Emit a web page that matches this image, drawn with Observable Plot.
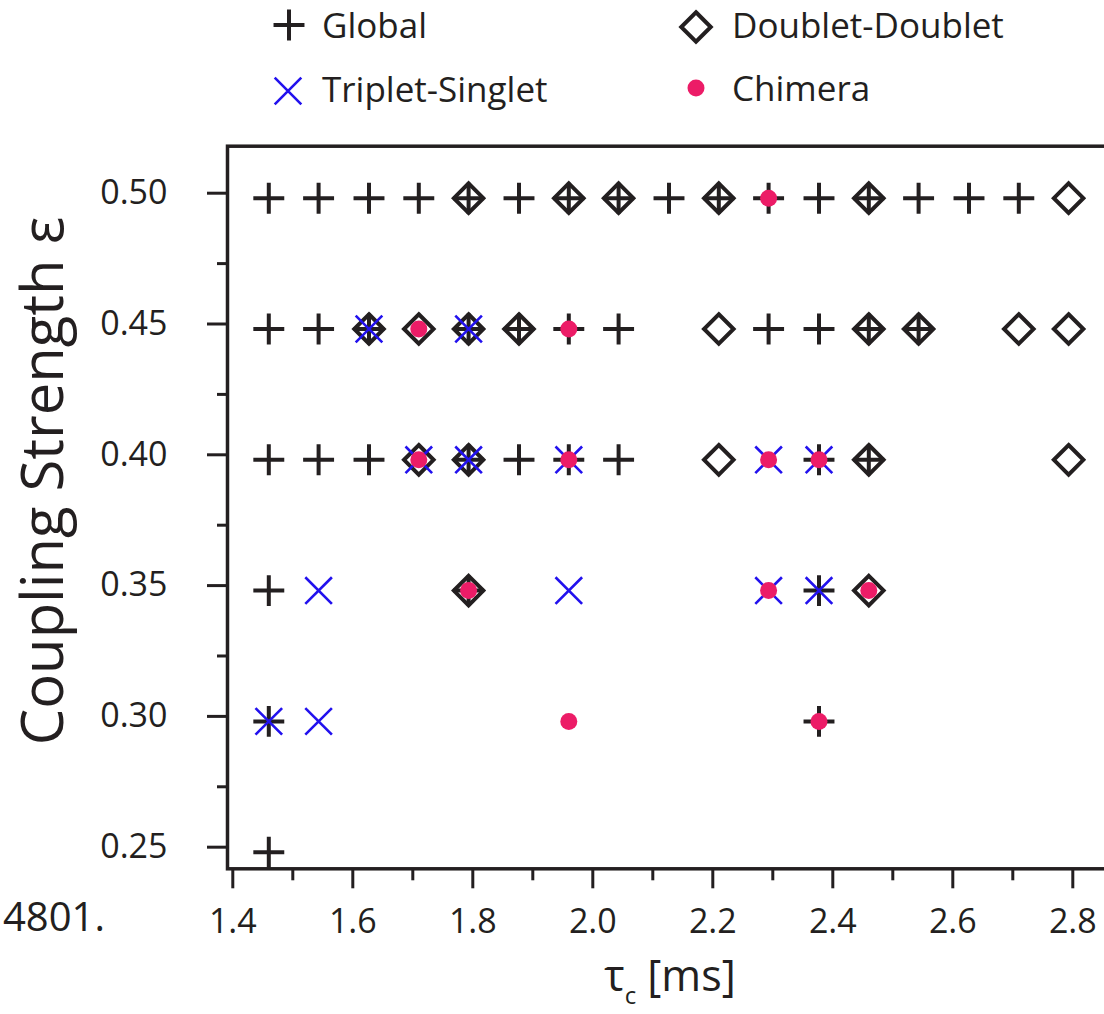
<!DOCTYPE html>
<html>
<head>
<meta charset="utf-8">
<script src="https://cdn.jsdelivr.net/npm/d3@7"></script>
<script src="https://cdn.jsdelivr.net/npm/@observablehq/plot@0.6"></script>
<style>
  html, body { margin: 0; padding: 0; background: #fff; overflow: hidden; width: 1104px; height: 1014px; }
  #legend, #chart { display: block; width: 1104px; overflow: hidden; }
  svg { display: block; }
  #chart svg { max-width: none !important; width: 1120px !important; height: 889px !important; }
</style>
</head>
<body>
<div id="legend"></div>
<div id="chart"></div>
<script>
// ---- data ----
const categories = ["Global", "Doublet-Doublet", "Triplet-Singlet", "Chimera"];
const xTicks = [1.4, 1.6, 1.8, 2.0, 2.2, 2.4, 2.6, 2.8];
const xMinorTicks = [1.5, 1.7, 1.9, 2.1, 2.3, 2.5, 2.7];
const yTicks = [0.25, 0.30, 0.35, 0.40, 0.45, 0.50];
const yMinorTicks = [0.275, 0.325, 0.375, 0.425, 0.475];

const globalPts = [
  [1.46,0.50],[1.543,0.50],[1.627,0.50],[1.71,0.50],[1.793,0.50],[1.877,0.50],[1.96,0.50],[2.043,0.50],
  [2.127,0.50],[2.21,0.50],[2.293,0.50],[2.377,0.50],[2.46,0.50],[2.543,0.50],[2.627,0.50],[2.71,0.50],
  [1.46,0.45],[1.543,0.45],[1.627,0.45],[1.793,0.45],[1.877,0.45],[1.96,0.45],[2.043,0.45],
  [2.293,0.45],[2.377,0.45],[2.46,0.45],[2.543,0.45],
  [1.46,0.40],[1.543,0.40],[1.627,0.40],[1.793,0.40],[1.877,0.40],[1.96,0.40],[2.043,0.40],
  [2.377,0.40],[2.46,0.40],
  [1.46,0.35],[1.793,0.35],[2.377,0.35],
  [1.46,0.30],[2.377,0.30],
  [1.46,0.25]
];
const doubletPts = [
  [1.793,0.50],[1.96,0.50],[2.043,0.50],[2.21,0.50],[2.46,0.50],[2.793,0.50],
  [1.627,0.45],[1.71,0.45],[1.793,0.45],[1.877,0.45],[2.21,0.45],[2.46,0.45],[2.543,0.45],[2.71,0.45],[2.793,0.45],
  [1.71,0.40],[1.793,0.40],[2.21,0.40],[2.46,0.40],[2.793,0.40],
  [1.793,0.35],[2.46,0.35]
];
const tripletPts = [
  [1.627,0.45],[1.793,0.45],
  [1.71,0.40],[1.793,0.40],[1.96,0.40],[2.293,0.40],[2.377,0.40],
  [1.543,0.35],[1.96,0.35],[2.293,0.35],[2.377,0.35],
  [1.46,0.30],[1.543,0.30]
];
const chimeraPts = [
  [2.293,0.50],
  [1.71,0.45],[1.96,0.45],
  [1.71,0.40],[1.96,0.40],[2.293,0.40],[2.377,0.40],
  [1.793,0.35],[2.293,0.35],[2.46,0.35],
  [1.96,0.30],[2.377,0.30]
];

// ---- styling ----
const black = "#231f20", blue = "#2211ee", pink = "#ec1c67";
const font = "'Open Sans', 'Noto Sans', sans-serif";
const styles = {
  "Global":          {symbol: "plus",     r: 10,    stroke: black, fill: "none", strokeWidth: 4},
  "Doublet-Doublet": {symbol: "diamond2", r: 13.3,  stroke: black, fill: "none", strokeWidth: 4},
  "Triplet-Singlet": {symbol: "times",    r: 12.15, stroke: blue,  fill: "none", strokeWidth: 2.6},
  "Chimera":         {symbol: "circle",   r: 8.5,   stroke: "none", fill: pink, strokeWidth: 0}
};
const toRows = (pts) => pts.map(([tau, eps]) => ({tau, eps}));
const series = {
  "Global": toRows(globalPts),
  "Doublet-Doublet": toRows(doubletPts),
  "Triplet-Singlet": toRows(tripletPts),
  "Chimera": toRows(chimeraPts)
};

// ---- legend (above the chart) ----
const legendPos = {
  "Global":          {sx: 289, sy: 25, tx: 322, ty: 38},
  "Doublet-Doublet": {sx: 696, sy: 27, tx: 732, ty: 38},
  "Triplet-Singlet": {sx: 288, sy: 91, tx: 322, ty: 102},
  "Chimera":         {sx: 696, sy: 88, tx: 732, ty: 101}
};
const symMap = {plus: d3.symbolPlus, diamond2: d3.symbolDiamond2, times: d3.symbolTimes, circle: d3.symbolCircle};
const legend = d3.select("#legend").append("svg").attr("width", 1104).attr("height", 125);
for (const c of categories) {
  const s = styles[c], p = legendPos[c];
  legend.append("path")
    .attr("d", d3.symbol(symMap[s.symbol], Math.PI * s.r * s.r)())
    .attr("transform", `translate(${p.sx},${p.sy})`)
    .attr("fill", s.fill).attr("stroke", s.stroke).attr("stroke-width", s.strokeWidth);
  legend.append("text").attr("x", p.tx).attr("y", p.ty)
    .attr("font-family", font).attr("font-size", 35).attr("fill", black).text(c);
}

// ---- chart ----
const chart = Plot.plot({
  width: 1120, height: 889,
  marginLeft: 227, marginRight: 10, marginTop: 20.7, marginBottom: 145.7,
  style: {fontFamily: font, color: black, background: "#fff", maxWidth: "none"},
  x: {domain: [1.39117, 2.86283], label: null},
  y: {domain: [0.24365, 0.51988], label: null},
  marks: [
    Plot.axisY({ticks: yMinorTicks, tickSize: 10, tickFormat: () => "", strokeWidth: 3, label: null}),
    Plot.axisY({ticks: yTicks, tickSize: 20, tickPadding: 40, tickFormat: d3.format(".2f"),
                fontSize: 34, dy: -5, strokeWidth: 3, label: null}),
    Plot.axisX({ticks: xMinorTicks, tickSize: 12, tickFormat: () => "", strokeWidth: 3, label: null}),
    Plot.axisX({ticks: xTicks, tickSize: 20, tickPadding: 20, tickFormat: d3.format(".1f"),
                fontSize: 34, strokeWidth: 3, label: null}),
    Plot.frame({stroke: black, strokeWidth: 3.5}),
    ...categories.map(c => Plot.dot(series[c], {
      x: "tau", y: "eps",
      symbol: styles[c].symbol, r: styles[c].r,
      stroke: styles[c].stroke, fill: styles[c].fill, strokeWidth: styles[c].strokeWidth
    }))
  ]
});
document.getElementById("chart").appendChild(chart);

// axis titles and the stray caption fragment
const svg = d3.select(chart);
const xl = svg.append("text").attr("x", 670).attr("y", 866).attr("text-anchor", "middle")
  .attr("font-family", font).attr("font-size", 43).attr("fill", black);
xl.append("tspan").text("τ");
xl.append("tspan").attr("font-size", 24).attr("dy", 13).text("c");
xl.append("tspan").attr("dy", -13).text(" [ms]");

svg.append("text").attr("transform", "translate(63,356) rotate(-90)").attr("text-anchor", "middle")
  .attr("font-family", font).attr("font-size", 58).attr("fill", black).text("Coupling Strength ε");

svg.append("text").attr("x", 105).attr("y", 806).attr("text-anchor", "end")
  .attr("font-family", font).attr("font-size", 40).attr("fill", black).text("4801.");
</script>
</body>
</html>
